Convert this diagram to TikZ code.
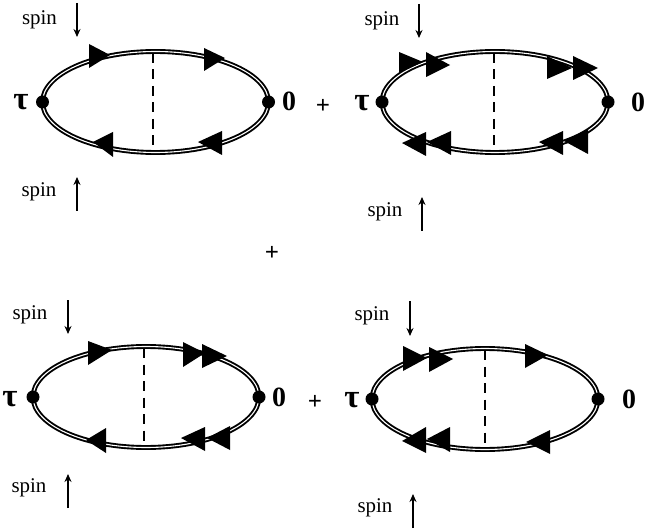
\documentclass[tikz,border=0pt]{standalone}
\usepackage{fontspec}
\setmainfont{Liberation Serif}
\usetikzlibrary{arrows.meta}
\tikzset{
  lbl/.style={inner sep=0pt,font=\fontsize{21}{24}\selectfont},
  bigsym/.style={inner sep=0pt,font=\fontsize{28}{30}\selectfont\bfseries},
  bigtau/.style={inner sep=0pt,font=\fontsize{33}{34}\selectfont\bfseries},
  plus/.style={inner sep=0pt,font=\fontsize{25}{26}\selectfont\bfseries},
  vertex/.style={circle,fill=black,inner sep=0pt,minimum size=13bp},
  prop/.style={draw=black,line width=1.9bp,double=white,double distance=1.1bp},
  spinarrow/.style={line width=2bp,-{Stealth[length=8bp,width=7bp]}},
  inter/.style={line width=2bp,dash pattern=on 10bp off 6.5bp},
  tip/.style={fill=black,draw=none}
}
% #1 prefix, #2 cx, #3 cy, #4 dash x
\newcommand{\oneloop}[4]{
  \path[prop] (#2,#3) ellipse [x radius=113,y radius=50.5];
  \node[vertex] (#1L) at (#2-113,#3) {};
  \node[vertex] (#1R) at (#2+113,#3) {};
  \coordinate (#1T) at (#4,#3-49);
  \coordinate (#1B) at (#4,#3+47);
  \draw[inter] (#1T) -- (#1B);
}
\newcommand{\spinlabel}[6]{% name, label x,y, arrow x, start y, end y
  \node[lbl] (#1) at (#2,#3) {spin};
  \coordinate (#1s) at (#4,#5);
  \coordinate (#1e) at (#4,#6);
  \draw[spinarrow] (#1s) -- (#1e);
}
\begin{document}
\begin{tikzpicture}[x=1bp,y=-1bp]
\useasboundingbox (0,0) rectangle (662,531);
\oneloop{a}{155.5}{102}{153}
\oneloop{b}{495}{102}{494}
\oneloop{c}{146}{397}{144}
\oneloop{d}{485}{399}{485}
% triangles
\foreach \p/\q/\r in {
 {89,44}/{89,68}/{110,55}, {204,48}/{204,71}/{225,58},
 {113,132}/{113,157}/{93,142}, {222,131}/{222,155}/{198,142},
 {399,52}/{399,73}/{423,62}, {426,52}/{426,77}/{450,65},
 {547,56}/{547,79}/{572,68}, {573,56}/{573,80}/{598,68},
 {426,132}/{426,156}/{402,143}, {451,131}/{451,155}/{427,142},
 {563,131}/{563,155}/{539,142}, {588,129}/{588,154}/{564,141},
 {88,341}/{88,365}/{112,350}, {183,342}/{183,367}/{205,353},
 {202,344}/{202,368}/{227,356},
 {106,428}/{106,453}/{86,440}, {205,427}/{205,451}/{181,438},
 {230,426}/{230,450}/{207,438},
 {403,346}/{403,371}/{427,358}, {429,347}/{429,372}/{453,359},
 {525,344}/{525,368}/{548,355},
 {426,427}/{426,453}/{402,441}, {450,427}/{450,452}/{427,439},
 {550,430}/{550,454}/{526,442}}
 {\fill[tip] (\p) -- (\q) -- (\r) -- cycle;}
% spin labels and arrows
\spinlabel{s1}{39.5}{19.5}{77}{3}{37}
\spinlabel{s2}{39}{191.5}{77}{211}{177}
\spinlabel{s3}{382}{20.5}{419}{4}{38}
\spinlabel{s4}{385}{211.5}{422}{231}{197}
\spinlabel{s5}{30}{314.5}{68}{300}{334}
\spinlabel{s6}{29}{487.5}{68}{508}{474}
\spinlabel{s7}{372}{315.5}{410}{301}{336}
\spinlabel{s8}{375}{507.5}{413}{528}{494}
% endpoints
\node[bigtau] (t1) at (21,102) {τ};
\node[bigtau] (t2) at (362,103) {τ};
\node[bigtau] (t3) at (10,399) {τ};
\node[bigtau] (t4) at (352,400) {τ};
\node[bigsym] (z1) at (289,101) {0};
\node[bigsym] (z2) at (638,102) {0};
\node[bigsym] (z3) at (279,397) {0};
\node[bigsym] (z4) at (629,399) {0};
\node[plus] (p1) at (323,106) {+};
\node[plus] (p2) at (315,402) {+};
\node[plus] (p3) at (272,253) {+};
\end{tikzpicture}
\end{document}
